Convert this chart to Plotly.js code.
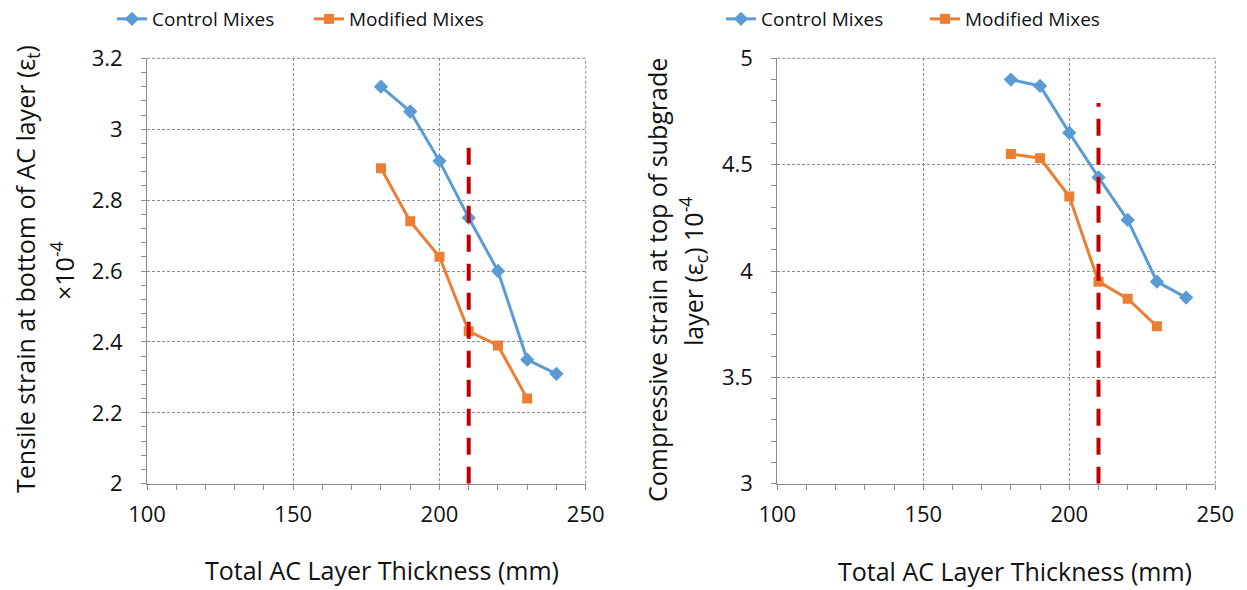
<!DOCTYPE html>
<html>
<head>
<meta charset="utf-8">
<script src="https://cdn.plot.ly/plotly-3.0.1.min.js"></script>
<style>
  html, body { margin: 0; padding: 0; background: #fff; }
  #chart { width: 1247px; height: 590px; }
</style>
</head>
<body>
<div id="chart"></div>
<script>
// Total asphalt-concrete layer thickness (mm)
const thickness = [180, 190, 200, 210, 220, 230, 240];
const thicknessModified = [180, 190, 200, 210, 220, 230];

// Tensile strain at bottom of AC layer (x10^-4)
const tensileControl = [3.12, 3.05, 2.91, 2.75, 2.60, 2.35, 2.31];
const tensileModified = [2.89, 2.74, 2.64, 2.43, 2.39, 2.24];

// Compressive strain at top of subgrade (x10^-4)
const compressiveControl = [4.90, 4.87, 4.65, 4.44, 4.24, 3.95, 3.875];
const compressiveModified = [4.55, 4.53, 4.35, 3.95, 3.87, 3.74];

// Design thickness marker
const limitThickness = [210, 210];
const tensileLimit = [2.0, 2.98];
const compressiveLimit = [3.0, 4.79];

const FONT = '"Open Sans", Lato, sans-serif';
const BLUE = '#5B9BD5';
const ORANGE = '#ED7D31';
const RED = '#C00000';
const AXIS = '#8C8C8C';
const GRID = '#8C8C8C';
const TEXT = '#111111';
const W = 1247, H = 590;

function px(x) { return x / W; }
function py(y) { return 1 - y / H; }

function series(x, y, name, color, symbol, size, xa, ya, legend) {
  return {
    type: 'scatter', mode: 'lines+markers', x: x, y: y, name: name,
    xaxis: xa, yaxis: ya, legend: legend,
    line: { color: color, width: 3 },
    marker: { color: color, symbol: symbol, size: size }
  };
}

function limitLine(y, xa, ya) {
  return {
    type: 'scatter', mode: 'lines', x: limitThickness, y: y,
    xaxis: xa, yaxis: ya, showlegend: false, hoverinfo: 'skip',
    line: { color: RED, width: 4, dash: '17px,12px' }
  };
}

const data = [
  series(thickness, tensileControl, 'Control Mixes', BLUE, 'diamond', 11, 'x', 'y', 'legend'),
  series(thicknessModified, tensileModified, 'Modified Mixes', ORANGE, 'square', 10, 'x', 'y', 'legend'),
  limitLine(tensileLimit, 'x', 'y'),
  series(thickness, compressiveControl, 'Control Mixes', BLUE, 'diamond', 11, 'x2', 'y2', 'legend2'),
  series(thicknessModified, compressiveModified, 'Modified Mixes', ORANGE, 'square', 10, 'x2', 'y2', 'legend2'),
  limitLine(compressiveLimit, 'x2', 'y2')
];

const tickFont = { family: FONT, size: 22, color: TEXT };

function xAxis(domain, anchor) {
  return {
    domain: domain, anchor: anchor, range: [100, 250], dtick: 50, tick0: 100,
    showline: true, linecolor: AXIS, linewidth: 1,
    ticks: 'outside', ticklen: 5, tickcolor: AXIS, tickwidth: 1,
    minor: { dtick: 10, ticks: 'outside', ticklen: 5, tickcolor: AXIS, showgrid: false },
    showgrid: true, gridcolor: GRID, griddash: '3px,2px', gridwidth: 1,
    zeroline: false, tickfont: tickFont, automargin: false, fixedrange: true,
    ticklabelstandoff: 6
  };
}
function yAxis(domain, anchor, range, dtick, minor) {
  return {
    domain: domain, anchor: anchor, range: range, dtick: dtick, tick0: range[0],
    showline: true, linecolor: AXIS, linewidth: 1,
    ticks: 'outside', ticklen: 5, tickcolor: AXIS, tickwidth: 1,
    minor: { dtick: minor, ticks: 'outside', ticklen: 5, tickcolor: AXIS, showgrid: false },
    showgrid: true, gridcolor: GRID, griddash: '3px,2px', gridwidth: 1,
    zeroline: false, tickfont: tickFont, automargin: false, fixedrange: true,
    ticklabelstandoff: 14
  };
}
// tick marks mirrored inward so they cross the axis line
function xInner(over, anchor) {
  return {
    overlaying: over, anchor: anchor, range: [100, 250], dtick: 50, tick0: 100,
    ticks: 'inside', ticklen: 5, tickcolor: AXIS, showticklabels: false,
    minor: { dtick: 10, ticks: 'inside', ticklen: 5, tickcolor: AXIS },
    showgrid: false, zeroline: false, showline: false, fixedrange: true
  };
}
function yInner(over, anchor, range, dtick, minor) {
  return {
    overlaying: over, anchor: anchor, range: range, dtick: dtick, tick0: range[0],
    ticks: 'inside', ticklen: 5, tickcolor: AXIS, showticklabels: false,
    minor: { dtick: minor, ticks: 'inside', ticklen: 5, tickcolor: AXIS },
    showgrid: false, zeroline: false, showline: false, fixedrange: true
  };
}

const dx1 = [px(147), px(585.7)];
const dx2 = [px(777.3), px(1215.3)];
const dy = [py(483.7), py(58.3)];

const legendFont = { family: FONT, size: 19, color: TEXT };
function legendBox(x, entry) {
  return {
    orientation: 'h', x: px(x), xanchor: 'left', y: py(0), yanchor: 'top',
    font: legendFont, bgcolor: 'rgba(0,0,0,0)', borderwidth: 0,
    entrywidth: entry, entrywidthmode: 'pixels', itemwidth: 30, traceorder: 'normal'
  };
}

// dashed top and right frame edges, drawn like the grid
function frame(xd, yd) {
  const dash = { color: GRID, width: 1, dash: '3px,2px' };
  return [
    { type: 'line', xref: xd, yref: yd, x0: 0, x1: 1, y0: 1, y1: 1, line: dash },
    { type: 'line', xref: xd, yref: yd, x0: 1, x1: 1, y0: 0, y1: 1, line: dash }
  ];
}

const titleFont = { family: FONT, size: 25, color: TEXT };
function ann(text, x, y, angle) {
  return {
    text: text, xref: 'paper', yref: 'paper', x: px(x), y: py(y),
    xanchor: 'center', yanchor: 'middle', showarrow: false,
    textangle: angle, font: titleFont
  };
}

const layout = {
  width: W, height: H,
  margin: { l: 0, r: 0, t: 0, b: 0 },
  paper_bgcolor: '#fff', plot_bgcolor: '#fff',
  font: { family: FONT },
  showlegend: true,
  xaxis: xAxis(dx1, 'y'),
  yaxis: yAxis(dy, 'x', [2, 3.2], 0.2, 0.04),
  xaxis2: xAxis(dx2, 'y2'),
  yaxis2: yAxis(dy, 'x2', [3, 5], 0.5, 0.1),
  xaxis3: xInner('x', 'y'),
  yaxis3: yInner('y', 'x', [2, 3.2], 0.2, 0.04),
  xaxis4: xInner('x2', 'y2'),
  yaxis4: yInner('y2', 'x2', [3, 5], 0.5, 0.1),
  legend: legendBox(112, 152),
  legend2: legendBox(721, 159),
  shapes: frame('x domain', 'y domain').concat(frame('x2 domain', 'y2 domain')),
  annotations: [
    ann('Total AC Layer Thickness (mm)', 382, 570, 0),
    ann('Total AC Layer Thickness (mm)', 1015, 571, 0),
    ann('Tensile strain at bottom of AC layer (ε<sub>t</sub>)', 26, 269, -90),
    ann('×10<sup>-4</sup>', 62, 271, -90),
    ann('Compressive strain at top of subgrade', 657, 280, -90),
    ann('layer (ε<sub>c</sub>) 10<sup>-4</sup>', 693, 272, -90)
  ]
};

Plotly.newPlot('chart', data, layout, { displayModeBar: false, staticPlot: true });
</script>
</body>
</html>
